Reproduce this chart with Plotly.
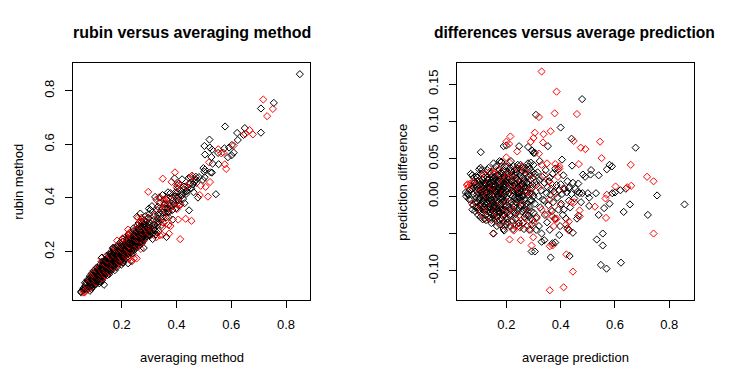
import plotly.graph_objects as go

# Points read from the "differences versus average prediction" panel:
# mean of the two predictions (x) and averaging minus rubin (y).
black_mean = [
    0.050, 0.052, 0.058, 0.069, 0.075, 0.080, 0.070, 0.075, 0.078, 0.080, 0.082, 0.085, 0.088, 0.090,
    0.090, 0.095, 0.100, 0.105, 0.110, 0.100, 0.100, 0.095, 0.100, 0.105, 0.113, 0.120, 0.115, 0.120,
    0.118, 0.108, 0.092, 0.098, 0.112, 0.118, 0.105, 0.115, 0.085, 0.090, 0.102, 0.108, 0.113, 0.119,
    0.096, 0.106,
    0.122, 0.125, 0.128, 0.130, 0.132, 0.135, 0.138, 0.140, 0.142, 0.145, 0.148, 0.150, 0.152, 0.155,
    0.158, 0.160, 0.126, 0.130, 0.134, 0.137, 0.141, 0.144, 0.147, 0.151, 0.153, 0.156, 0.159, 0.124,
    0.131, 0.139, 0.146, 0.154, 0.129, 0.143, 0.157, 0.151, 0.160, 0.153,
    0.162, 0.165, 0.168, 0.170, 0.172, 0.175, 0.178, 0.180, 0.182, 0.185, 0.188, 0.190, 0.192, 0.195,
    0.198, 0.200, 0.164, 0.167, 0.171, 0.174, 0.177, 0.181, 0.184, 0.187, 0.189, 0.193, 0.196, 0.199,
    0.190, 0.192, 0.200, 0.185, 0.170, 0.176, 0.182, 0.175, 0.166, 0.173, 0.179, 0.186, 0.194, 0.197,
    0.202, 0.205, 0.208, 0.210, 0.212, 0.215, 0.218, 0.220, 0.217, 0.225, 0.228, 0.230, 0.232, 0.235,
    0.238, 0.240, 0.242, 0.245, 0.248, 0.250, 0.204, 0.209, 0.214, 0.219, 0.224, 0.227, 0.231, 0.234,
    0.237, 0.241, 0.244, 0.247, 0.249, 0.226, 0.236, 0.243, 0.211, 0.221, 0.247, 0.229, 0.239, 0.206,
    0.252, 0.255, 0.258, 0.260, 0.262, 0.265, 0.268, 0.270, 0.272, 0.275, 0.278, 0.280, 0.282, 0.285,
    0.288, 0.290, 0.292, 0.295, 0.298, 0.300, 0.254, 0.257, 0.263, 0.267, 0.271, 0.276, 0.279, 0.284,
    0.287, 0.293, 0.296, 0.290, 0.280, 0.300, 0.323, 0.305, 0.310, 0.300, 0.295, 0.305, 0.259, 0.273,
    0.305, 0.310, 0.312, 0.315, 0.318, 0.320, 0.322, 0.325, 0.328, 0.330, 0.332, 0.335, 0.340, 0.342,
    0.345, 0.348, 0.350, 0.352, 0.355, 0.358, 0.360, 0.362, 0.365, 0.368, 0.370, 0.372, 0.375, 0.378,
    0.380, 0.385, 0.388, 0.390, 0.392, 0.395, 0.398, 0.400, 0.402, 0.405, 0.408, 0.410, 0.360, 0.340,
    0.412, 0.415, 0.420, 0.422, 0.425, 0.430, 0.432, 0.435, 0.440, 0.445, 0.450, 0.455, 0.460, 0.462,
    0.470, 0.475, 0.480, 0.465, 0.465, 0.430, 0.500, 0.505, 0.505, 0.530, 0.540, 0.560, 0.580, 0.590,
    0.600, 0.620, 0.640, 0.482, 0.512, 0.540, 0.570, 0.580, 0.589, 0.442, 0.405, 0.510, 0.490,
    0.479, 0.309, 0.400, 0.440, 0.676, 0.353, 0.247, 0.190, 0.200, 0.280, 0.106, 0.295, 0.300,
    0.755, 0.856, 0.721, 0.655, 0.632, 0.622, 0.569, 0.548, 0.555, 0.555, 0.533, 0.433, 0.363,
    0.293, 0.305, 0.425, 0.430, 0.445, 0.370, 0.380, 0.395, 0.340, 0.330, 0.310, 0.182, 0.153,
    0.085, 0.088, 0.092, 0.094, 0.097, 0.099, 0.101, 0.103, 0.107, 0.109, 0.111, 0.114, 0.116, 0.117,
    0.121, 0.123, 0.127, 0.129, 0.133, 0.136, 0.140, 0.142, 0.145, 0.149, 0.152, 0.155, 0.157, 0.161,
    0.163, 0.166, 0.169, 0.172, 0.174, 0.177, 0.179, 0.183, 0.186, 0.188, 0.191, 0.194, 0.197, 0.199,
    0.201, 0.203, 0.207, 0.213, 0.216, 0.219, 0.223, 0.226, 0.229, 0.233, 0.236, 0.239, 0.242, 0.246,
    0.249, 0.253, 0.256, 0.259, 0.261, 0.264, 0.266, 0.269, 0.273, 0.277, 0.281, 0.283, 0.286, 0.289,
    0.291, 0.294, 0.297, 0.115, 0.125, 0.135, 0.145, 0.165, 0.175, 0.185, 0.195, 0.205, 0.215, 0.225,
    0.235, 0.245, 0.255, 0.265, 0.275, 0.285, 0.075, 0.080, 0.065, 0.062, 0.060,
    0.104, 0.112, 0.119, 0.127, 0.134, 0.138, 0.143, 0.148, 0.153, 0.158, 0.162, 0.167, 0.171, 0.176,
    0.181, 0.186, 0.191, 0.196, 0.128, 0.137, 0.146, 0.155, 0.164, 0.173, 0.183, 0.192, 0.221, 0.232,
    0.244, 0.258, 0.270, 0.238, 0.251, 0.263,
]
black_diff = [
    0.005, 0.000, 0.004, 0.030, 0.028, 0.025, -0.005, 0.010, -0.012, 0.003, 0.018, -0.020, 0.008, -0.002,
    0.027, 0.020, 0.036, 0.038, 0.035, 0.015, -0.005, -0.015, -0.020, -0.028, -0.031, -0.030, 0.010, 0.000,
    -0.010, 0.005, 0.002, 0.010, 0.022, 0.025, -0.012, -0.018, -0.008, 0.012, -0.002, 0.013, -0.006, 0.016,
    -0.025, 0.030,
    0.018, 0.005, -0.008, 0.025, -0.015, 0.000, 0.012, -0.022, 0.030, -0.005, 0.008, -0.030, 0.020, 0.002,
    -0.012, 0.015, -0.025, 0.035, 0.010, -0.030, 0.004, -0.018, 0.022, -0.008, 0.033, -0.025, 0.006, -0.002,
    -0.004, 0.018, 0.014, -0.016, 0.012, -0.012, 0.026, -0.026, -0.030, 0.044,
    0.040, -0.005, 0.010, -0.020, 0.028, 0.047, -0.012, 0.003, -0.030, 0.020, -0.008, 0.035, -0.025, 0.012,
    -0.002, 0.018, 0.022, -0.028, 0.004, -0.016, 0.015, 0.032, -0.004, 0.006, -0.035, 0.024, -0.014, 0.030,
    -0.044, -0.046, -0.038, -0.018, 0.000, -0.038, 0.046, 0.025, -0.010, 0.008, -0.022, 0.001, 0.016, -0.006,
    0.040, 0.010, -0.015, 0.030, -0.025, 0.002, 0.020, -0.008, 0.047, 0.014, -0.020, 0.035, 0.006, -0.030,
    0.024, -0.004, 0.042, 0.012, -0.016, 0.028, -0.035, 0.018, -0.040, 0.008, 0.026, -0.010, 0.016, -0.024,
    0.032, 0.004, -0.036, 0.020, -0.002, 0.040, 0.008, 0.016, 0.004, -0.032, 0.000, -0.005, 0.010, 0.022,
    0.042, 0.005, -0.020, 0.025, -0.035, 0.012, -0.005, 0.030, -0.025, 0.018, -0.040, 0.002, 0.040, -0.015,
    0.022, -0.030, 0.010, -0.006, 0.032, -0.022, -0.012, 0.034, 0.000, -0.028, 0.008, -0.010, 0.026, -0.045,
    0.004, -0.038, 0.015, 0.045, 0.044, 0.042, 0.047, 0.030, 0.020, 0.000, 0.061, 0.058, 0.016, -0.018,
    -0.010, 0.015, -0.028, 0.032, 0.000, -0.040, 0.022, -0.015, 0.008, -0.050, 0.026, -0.005, 0.018, -0.025,
    0.035, 0.004, -0.035, 0.012, -0.012, 0.020, -0.045, 0.002, 0.010, -0.020, 0.030, -0.008, 0.006, -0.030,
    0.037, 0.015, -0.002, 0.036, -0.018, 0.008, -0.040, 0.016, -0.010, 0.003, -0.025, 0.028, 0.025, -0.006,
    -0.018, 0.010, -0.030, 0.005, 0.020, -0.006, 0.012, -0.015, 0.003, 0.018, -0.003, 0.010, -0.030, 0.006,
    0.004, -0.008, 0.004, 0.017, -0.026, 0.011, 0.004, -0.002, -0.013, 0.004, -0.025, -0.016, -0.010, 0.004,
    0.005, 0.008, 0.010, 0.029, 0.035, 0.028, 0.036, 0.042, 0.040, 0.041, 0.049, 0.029, 0.026,
    0.130, 0.109, 0.092, 0.077, 0.065, 0.067, 0.067, 0.067, 0.068, 0.066, 0.059, 0.061, 0.058,
    0.001, -0.011, -0.025, -0.011, -0.021, -0.089, -0.097, -0.092, -0.066, -0.050, -0.058, -0.080, -0.082,
    -0.074, -0.074, -0.043, -0.045, -0.049, -0.063, -0.062, -0.052, -0.059, -0.061, -0.045, 0.046, -0.050,
    0.015, -0.015, 0.025, -0.008, 0.004, -0.018, 0.022, 0.008, -0.010, 0.018, 0.002, -0.022, 0.014, -0.004,
    0.008, -0.018, 0.016, -0.010, 0.022, -0.006, 0.010, -0.016, 0.026, 0.002, -0.020, 0.012, -0.004, 0.006,
    -0.014, 0.028, -0.008, 0.012, 0.036, -0.022, 0.004, 0.010, -0.026, 0.016, -0.006, 0.002, 0.020, -0.012,
    0.006, -0.022, 0.026, 0.012, -0.018, 0.034, 0.000, -0.014, 0.018, 0.028, -0.008, 0.010, -0.020, 0.004,
    0.014, -0.006, 0.016, 0.000, 0.038, -0.018, 0.022, 0.006, -0.014, 0.012, -0.026, 0.016, -0.006, 0.028,
    -0.020, 0.004, -0.032, 0.030, -0.032, 0.038, -0.036, -0.040, -0.032, 0.030, 0.040, -0.030, 0.038, -0.044,
    0.036, -0.040, 0.032, -0.044, 0.036, 0.036, -0.018, 0.012, 0.008, -0.004, 0.002,
    -0.002, 0.006, -0.014, 0.004, -0.010, 0.016, -0.002, 0.010, -0.014, 0.020, -0.008, 0.002, 0.018, -0.020,
    0.008, -0.002, 0.012, -0.018, -0.020, 0.024, -0.024, 0.024, -0.018, 0.020, -0.016, 0.026, 0.020, -0.002,
    0.006, 0.002, 0.012, 0.024, -0.012, 0.020,
]
red_mean = [
    0.330, 0.385, 0.378, 0.460, 0.320, 0.545, 0.448, 0.474, 0.491, 0.551, 0.658, 0.467, 0.718, 0.742,
    0.742, 0.602, 0.660, 0.645, 0.570, 0.565, 0.567, 0.526, 0.470, 0.470, 0.450, 0.445, 0.411, 0.360,
    0.421, 0.360, 0.370, 0.212, 0.253, 0.151, 0.293, 0.299, 0.430, 0.430, 0.420, 0.370, 0.380, 0.365,
    0.440, 0.227, 0.250, 0.215, 0.200, 0.210, 0.305, 0.337, 0.300, 0.363, 0.335, 0.240, 0.290, 0.320,
    0.200, 0.350, 0.380, 0.395, 0.330,
    0.055, 0.058, 0.060, 0.074, 0.068, 0.072,
    0.090, 0.100, 0.110, 0.095, 0.115, 0.105, 0.120,
    0.125, 0.130, 0.138, 0.145, 0.150, 0.155, 0.140, 0.158, 0.128,
    0.165, 0.170, 0.175, 0.180, 0.185, 0.190, 0.195, 0.200, 0.182, 0.198,
    0.205, 0.210, 0.215, 0.220, 0.225, 0.230, 0.235, 0.240, 0.245, 0.250, 0.212, 0.232,
    0.255, 0.260, 0.265, 0.270, 0.275, 0.280, 0.285, 0.290, 0.295, 0.300,
    0.310, 0.320, 0.330, 0.340, 0.350, 0.355, 0.360, 0.370, 0.375, 0.380, 0.390, 0.400, 0.395, 0.385, 0.410,
    0.080, 0.120, 0.135, 0.148, 0.160, 0.172, 0.188, 0.203, 0.218, 0.228, 0.238, 0.248, 0.258, 0.268,
    0.278, 0.288, 0.298, 0.110, 0.165, 0.195,
]
red_diff = [
    0.167, 0.140, 0.111, 0.110, 0.106, 0.073, 0.074, 0.065, 0.063, 0.051, 0.042, 0.043, 0.026, 0.020,
    -0.050, 0.013, 0.014, 0.012, 0.002, -0.003, -0.029, -0.014, -0.019, -0.027, -0.008, -0.101, -0.122, -0.126,
    -0.078, -0.067, -0.066, -0.058, -0.059, -0.050, -0.066, -0.055, -0.046, -0.034, -0.038, -0.027, -0.031, -0.018,
    -0.008, -0.046, -0.042, 0.080, 0.073, 0.070, 0.085, 0.083, 0.078, 0.087, 0.072, 0.060, 0.073, 0.057,
    0.052, 0.044, 0.043, 0.037, 0.042,
    0.015, 0.016, 0.012, -0.010, 0.017, 0.014,
    -0.010, 0.005, -0.015, 0.020, 0.030, -0.022, 0.010,
    0.028, -0.020, 0.006, -0.032, 0.012, 0.030, 0.033, -0.020, 0.000,
    0.010, -0.025, 0.030, -0.010, 0.040, 0.005, -0.030, 0.025, 0.018, -0.020,
    0.030, -0.020, 0.015, -0.035, 0.005, 0.025, -0.012, 0.038, -0.026, 0.008, 0.045, -0.040,
    0.020, -0.010, 0.035, -0.030, 0.005, -0.020, 0.030, -0.045, 0.012, -0.035,
    -0.030, 0.012, -0.018, 0.028, -0.025, 0.020, -0.005, 0.015, -0.040, 0.003, 0.026, -0.012, 0.040, -0.030, 0.010,
    0.020, -0.030, 0.018, -0.012, 0.002, -0.035, 0.022, -0.008, 0.028, -0.022, 0.012, -0.036, 0.040, 0.012,
    -0.040, 0.004, 0.024, 0.008, 0.035, -0.040,
]

x_ticks = [0.2, 0.4, 0.6, 0.8]
y1_ticks = [0.2, 0.4, 0.6, 0.8]
y2_ticks = [-0.10, -0.05, 0.00, 0.05, 0.10, 0.15]
y2_labels = ["-0.10", "", "0.00", "0.05", "0.10", "0.15"]

# Interleave black and red points in drawing order (ordered by mean prediction)
pts = [(m, d, "#000000") for m, d in zip(black_mean, black_diff)] + \
      [(m, d, "#FF0000") for m, d in zip(red_mean, red_diff)]
pts.sort(key=lambda p: p[0])
means = [p[0] for p in pts]
diffs = [p[1] for p in pts]
colors = [p[2] for p in pts]
averaging = [m + d / 2 for m, d in zip(means, diffs)]
rubin = [m - d / 2 for m, d in zip(means, diffs)]

W, H = 734, 381
FONT = "Liberation Sans, Arial, sans-serif"
marker = dict(symbol="diamond-open", size=5.5, color=colors, line=dict(width=1, color=colors))

fig = go.Figure()
fig.add_trace(go.Scatter(x=averaging, y=rubin, mode="markers", marker=marker,
                         xaxis="x", yaxis="y", showlegend=False, hoverinfo="skip"))
fig.add_trace(go.Scatter(x=means, y=diffs, mode="markers", marker=marker,
                         xaxis="x2", yaxis="y2", showlegend=False, hoverinfo="skip"))

ax = dict(showgrid=False, zeroline=False, showline=True, mirror=True, linecolor="black",
          linewidth=1, ticks="outside", ticklen=7, tickwidth=1, tickcolor="black",
          tickfont=dict(family=FONT, size=13, color="black"))
top, bottom = 1 - 63.3 / H, 1 - 300 / H
fig.update_layout(
    width=W, height=H, autosize=False, margin=dict(l=0, r=0, t=0, b=0),
    paper_bgcolor="white", plot_bgcolor="white",
    xaxis=dict(ax, domain=[73.3 / W, 310.3 / W], range=[0.0233, 0.8887], tickvals=x_ticks,
               ticktext=[f"{v:.1f}" for v in x_ticks], anchor="y", ticklabelstandoff=5),
    yaxis=dict(ax, domain=[bottom, top], range=[0.0198, 0.902], tickvals=y1_ticks,
               ticktext=[f"{v:.1f}" for v in y1_ticks], tickangle=-90, anchor="x", ticklabelstandoff=6),
    xaxis2=dict(ax, domain=[457.3 / W, 694.3 / W], range=[0.0195, 0.892], tickvals=x_ticks,
                ticktext=[f"{v:.1f}" for v in x_ticks], anchor="y2", ticklabelstandoff=5),
    yaxis2=dict(ax, domain=[bottom, top], range=[-0.139, 0.178], tickvals=y2_ticks,
                ticktext=y2_labels, tickangle=-90, anchor="x2", ticklabelstandoff=6),
)

def ann(text, x, y, size=13, bold=False, angle=0):
    fig.add_annotation(text=f"<b>{text}</b>" if bold else text, x=x / W, y=1 - y / H,
                       xref="paper", yref="paper", showarrow=False, textangle=angle,
                       font=dict(family=FONT, size=size, color="black"),
                       xanchor="center", yanchor="middle")

ann("rubin versus averaging method", 191.8, 32, size=16, bold=True)
ann("differences versus average prediction", 574, 32, size=15.6, bold=True)
ann("averaging method", 191.8, 357.7)
ann("average prediction", 575.8, 357.7)
ann("rubin method", 19, 181.7, angle=-90)
ann("prediction difference", 403, 181.7, angle=-90)

fig.write_html("out.html", config={"displayModeBar": False},
               post_script="document.body.style.margin='0';")
